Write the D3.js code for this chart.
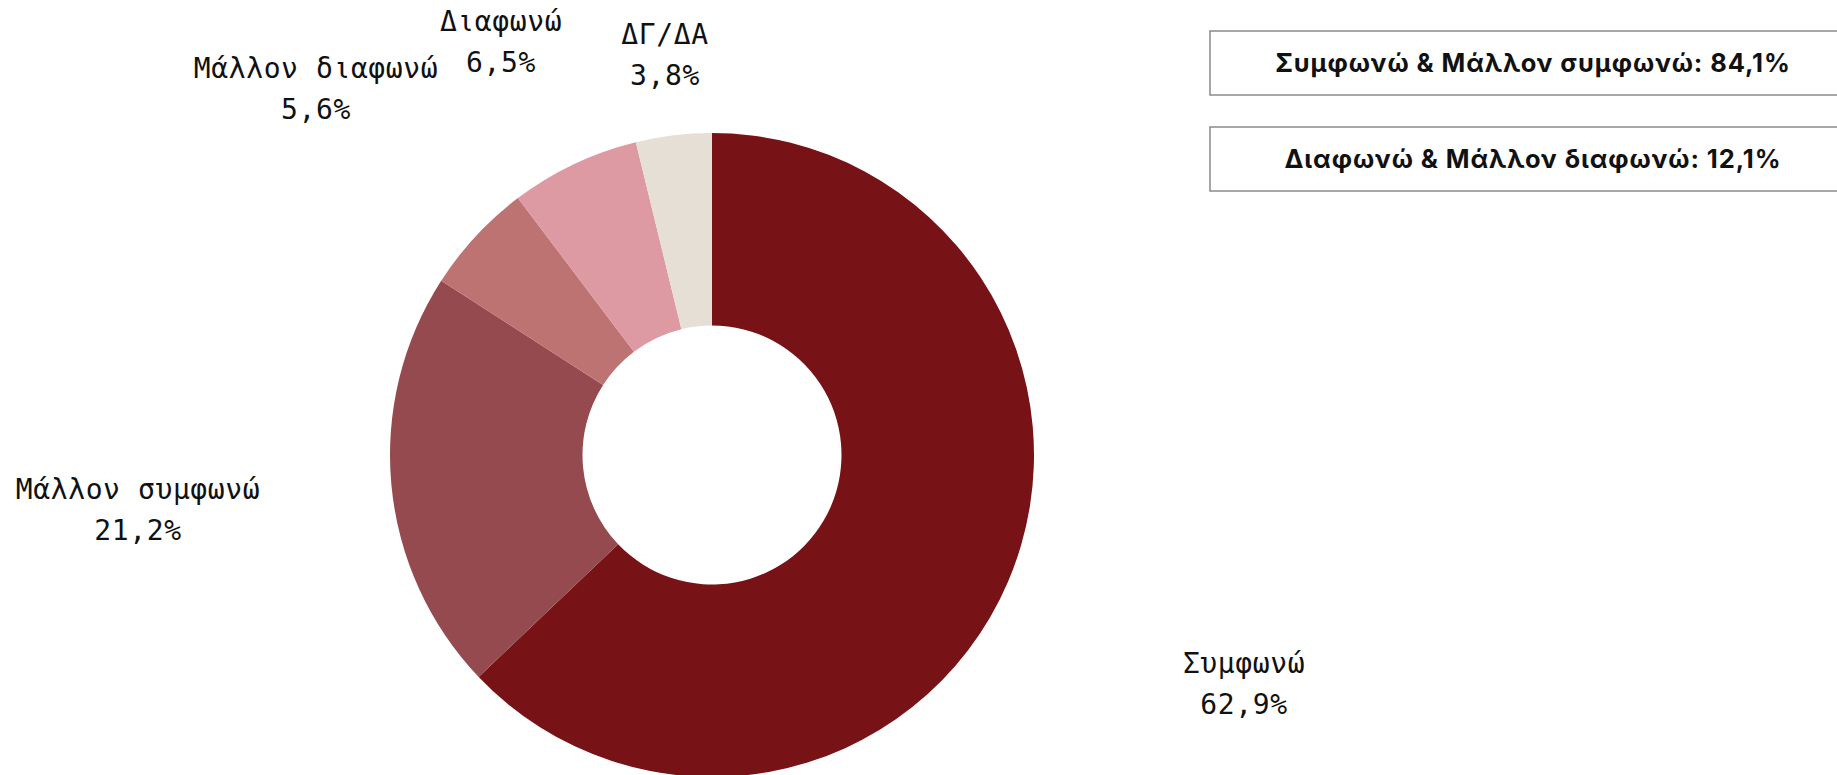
<!DOCTYPE html>
<html>
<head>
<meta charset="utf-8">
<script src="https://cdn.jsdelivr.net/npm/d3@7"></script>
<style>
  html, body { margin: 0; padding: 0; background: #fff; overflow: hidden; }
  svg { display: block; }
</style>
</head>
<body>
<svg id="chart" width="1837" height="775"></svg>
<script>
// Survey answers, clockwise from 12 o'clock
const categories = ["Συμφωνώ", "Μάλλον συμφωνώ", "Μάλλον διαφωνώ", "Διαφωνώ", "ΔΓ/ΔΑ"];
const values = [62.9, 21.2, 5.6, 6.5, 3.8];
const colors = ["#771216", "#944a4e", "#bd7372", "#dd9aa3", "#e6dfd6"];
// Label anchor points (centre of the two-line label)
const labelPos = [[1244, 684], [138, 510], [316, 89], [501, 42], [665, 55]];

// Summary boxes
const summaryLabels = ["Συμφωνώ & Μάλλον συμφωνώ", "Διαφωνώ & Μάλλον διαφωνώ"];
const summaryValues = [84.1, 12.1];

const fmt = v => d3.format(".1f")(v).replace(".", ",") + "%";

const svg = d3.select("#chart");
const cx = 712, cy = 455, rOuter = 322, rInner = 129.5;

const pie = d3.pie().sort(null).value(d => d.value);
const arc = d3.arc().innerRadius(rInner).outerRadius(rOuter);
const data = categories.map((c, i) => ({ name: c, value: values[i], color: colors[i], pos: labelPos[i] }));

const g = svg.append("g").attr("transform", `translate(${cx},${cy})`);
g.selectAll("path")
  .data(pie(data))
  .join("path")
  .attr("d", arc)
  .attr("fill", d => d.data.color);

// Slice labels: name on first line, value below
const labels = svg.append("g")
  .attr("font-family", "'DejaVu Sans Mono', monospace")
  .attr("font-size", 28)
  .attr("fill", "#111")
  .attr("text-anchor", "middle")
  .style("letter-spacing", "0.6px");

data.forEach(d => {
  const t = labels.append("text").attr("x", d.pos[0]).attr("y", d.pos[1]);
  t.append("tspan").attr("x", d.pos[0]).attr("dy", "-0.4em").text(d.name);
  t.append("tspan").attr("x", d.pos[0]).attr("dy", "1.47em").text(fmt(d.value));
});

// Summary boxes at top right
const boxX = 1210, boxW = 646, boxH = 64;
const boxY = [31, 127];
const boxes = svg.append("g");
summaryLabels.forEach((s, i) => {
  boxes.append("rect")
    .attr("x", boxX).attr("y", boxY[i])
    .attr("width", boxW).attr("height", boxH)
    .attr("fill", "#fff").attr("stroke", "#8a8a8a").attr("stroke-width", 1.5);
  boxes.append("text")
    .attr("x", 1533).attr("y", boxY[i] + boxH / 2)
    .attr("dy", "0.36em")
    .attr("text-anchor", "middle")
    .attr("font-family", "Inter, sans-serif")
    .attr("font-weight", 700)
    .attr("font-size", 25.5)
    .style("letter-spacing", "0.9px")
    .attr("fill", "#111")
    .text(`${s}: ${fmt(summaryValues[i])}`);
});
</script>
</body>
</html>
